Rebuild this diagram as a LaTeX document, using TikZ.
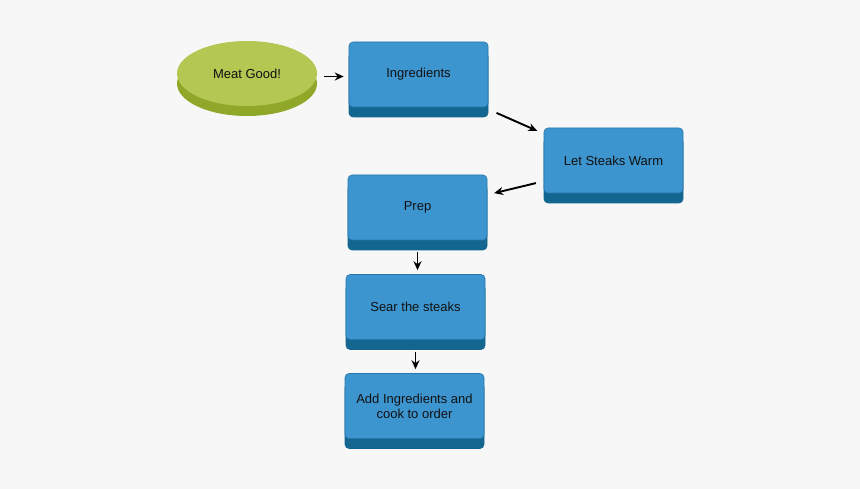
\documentclass[tikz,border=0pt]{standalone}
\usepackage{fontspec}
\setmainfont{Liberation Sans}
\usetikzlibrary{shapes.geometric,shadows,arrows.meta}
\definecolor{bgcol}{HTML}{F7F7F7}
\definecolor{boxfill}{HTML}{3D95CF}
\definecolor{boxline}{HTML}{2677AD}
\definecolor{boxband}{HTML}{12668F}
\definecolor{startfill}{HTML}{B3C752}
\definecolor{startband}{HTML}{8FA82A}
\definecolor{txt}{HTML}{111111}

\begin{document}
\begin{tikzpicture}[x=1pt,y=-1pt,
    font=\fontsize{13}{15}\selectfont,
    stepbox/.style={rectangle,rounded corners=4pt,fill=boxfill,draw=boxline,
      line width=0.6pt,minimum width=139pt,minimum height=65pt,inner sep=0pt,
      align=center,text=txt,
      general shadow={shadow yshift=-10pt,fill=boxband,draw=boxband}},
    startnode/.style={ellipse,fill=startfill,minimum width=140pt,
      minimum height=65pt,inner sep=0pt,text=txt,
      general shadow={shadow yshift=-10pt,fill=startband}},
    arr/.style={-{Stealth[length=9pt,width=8pt]},line width=1.9pt,black}]
  \useasboundingbox[fill=bgcol] (0,0) rectangle (860,489);
  % nodes
  \node[startnode] (meat)  at (247,73.5)   {Meat Good!};
  \node[stepbox]   (ing)   at (418.5,74.5) {Ingredients};
  \node[stepbox]   (warm)  at (613.5,160.5) {Let Steaks Warm};
  \node[stepbox]   (prep)  at (417.5,207.5) {Prep};
  \node[stepbox]   (sear)  at (415.5,307)  {Sear the steaks};
  \node[stepbox]   (add)   at (414.5,406)  {Add Ingredients and\\cook to order};
  % arrows
  \draw[arr,shorten <=7pt,shorten >=5pt]
    ([yshift=-3pt]meat.east) -- ([yshift=-3pt]meat.east -| ing.west);
  \draw[arr,shorten <=9pt,shorten >=7pt,transform canvas={yshift=-4pt}]
    (ing) -- (warm);
  \draw[arr,shorten <=8pt,shorten >=7pt,transform canvas={yshift=-4pt}]
    (warm) -- (prep);
  \draw[arr,shorten <=12pt,shorten >=4pt]
    (prep.south) -- (prep.south |- sear.north);
  \draw[arr,shorten <=12pt,shorten >=4pt]
    (sear.south) -- (sear.south |- add.north);
\end{tikzpicture}
\end{document}
